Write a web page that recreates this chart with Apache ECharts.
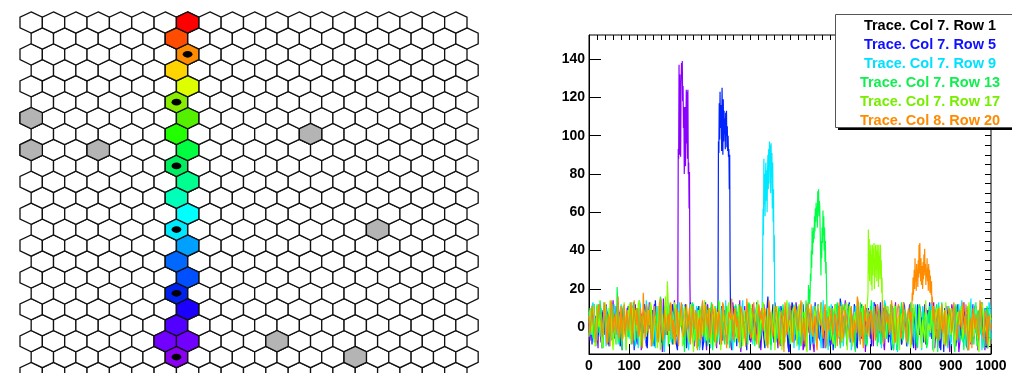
<!DOCTYPE html>
<html>
<head>
<meta charset="utf-8">
<script src="https://cdn.jsdelivr.net/npm/echarts@6/dist/echarts.min.js"></script>
<style>
  html, body { margin: 0; padding: 0; background: #fff; }
  #main { width: 1012px; height: 373px; }
</style>
</head>
<body>
<div id="main"></div>
<script>
// ---------------- detector map ----------------
const GRID_COLS = 20;   // columns 1..20
const GRID_ROWS = 23;   // rows 0..22 (row 0 at the bottom)

// hit cells along the track; hitSeq = order of arrival (1 = earliest)
const hitCols = [7, 7, 8, 7, 8, 7, 8, 7, 8, 7, 8, 7, 8, 7, 8, 7, 8, 7, 8, 7, 8, 7, 8];
const hitRows = [1, 2, 2, 3, 4, 5, 6, 7, 8, 9, 10, 11, 12, 13, 14, 15, 16, 17, 18, 19, 20, 21, 22];
const hitSeq  = [1, 2, 2, 3, 4, 5, 6, 7, 8, 9, 10, 11, 12, 13, 14, 15, 16, 17, 18, 19, 20, 21, 22];

// dead channels
const deadCols = [1, 1, 4, 13, 16, 12, 15];
const deadRows = [16, 14, 14, 15, 9, 2, 1];

// channels whose traces are shown
const traceCols = [7, 7, 7, 7, 7, 8];
const traceRows = [1, 5, 9, 13, 17, 20];
const traceNames = [
  'Trace. Col 7. Row 1',
  'Trace. Col 7. Row 5',
  'Trace. Col 7. Row 9',
  'Trace. Col 7. Row 13',
  'Trace. Col 7. Row 17',
  'Trace. Col 8. Row 20'
];

// ---------------- waveforms ----------------
// baseline samples every 5 ns: "base" at 0, 5, 10 ... and "mid" at 2.5, 7.5 ...
// (null inside the pulse window)
const sampleStep = 5;
const baseRow1 = [
  4, -6, 9, 1, -3, 12, -8, 5, 0, 7, -10, 3, 14, -4, 2, 8, -7, 6, -2, 10,
  -5, 3, 11, -9, 6, 1, -12, 8, 4, -3, 13, -6, 2, 9, -8, 5, 0, 15, -4, 7,
  -2, 10, -7, 3, null, null, null, null, null, null, null, 5, -6, 9, 1, -11, 7, 3, -4, 12,
  -8, 4, 8, -1, 6, -9, 11, 0, -5, 7, 3, -12, 9, -3, 5, 14, -6, 2, -10, 6,
  1, -4, 10, -7, 4, 8, -2, 12, -9, 3, 6, -5, 0, 9, -11, 5, 2, -3, 11, -6,
  7, 0, -8, 13, 3, -4, 6, -10, 9, 1, -2, 8, -13, 4, 10, -5, 2, 7, -7, 5,
  -1, 11, -6, 3, 8, -9, 0, 6, -3, 12, -8, 4, 1, -11, 9, 5, -4, 7, -2, 10,
  -6, 2, 13, -5, 6, -1, 9, -12, 3, 7, -3, 11, 0, -8, 5, 8, -6, 2, -10, 6,
  4, -2, 10, -7, 1, 8, -4, 12, -9, 5, 0, 7, -11, 3, 9, -5, 6, -1, 11, -7,
  2, 8, -3, 5, -13, 10, 1, -6, 7, 3, -9, 12, -2, 6, -5, 9, 0, -12, 8, 4,
  -3
];
const midRow1 = [
  -7, 10, -2, 6, -11, 3, 8, -4, 12, -9, 1, 7, -6, 11, -3, 5, -12, 9, 2, -5,
  8, -1, 13, -7, 4, 10, -3, 6, -10, 2, 9, -8, 12, -4, 3, 7, -13, 5, 11, -2,
  6, -9, 14, -5, null, null, null, null, null, null, -4, 8, -10, 3, 11, -6, 2, 9, -12, 5,
  10, -3, 7, -11, 12, 1, -7, 9, -2, 4, -9, 13, -5, 8, 0, -13, 6, 11, -4, 2,
  -8, 12, 3, -6, 9, -12, 5, 1, -3, 10, -9, 7, 13, -4, 2, -10, 8, -1, 6, -13,
  11, -5, 4, 9, -8, 2, -12, 7, 12, -3, 5, -9, 10, 0, -6, 13, -2, -11, 8, 3,
  -9, 6, 12, -4, 1, 9, -7, 14, -10, 4, 8, -2, -12, 11, 3, -6, 10, -13, 5, 0,
  9, -10, 4, 12, -3, 7, -8, 1, 11, -5, 6, -12, 13, -1, 3, -9, 10, 5, -7, 12,
  -4, 8, -12, 6, 11, -2, 4, -9, 9, 1, -6, 13, -3, 7, -11, 10, 2, -8, 5, -13,
  12, -5, 9, 1, -8, 6, 13, -3, -10, 8, 4, -6, 11, -12, 2, 7, -4, 10, -9, 3
];
const baseRow5 = [
  -3, 7, 2, -8, 11, 4, -5, 9, -1, 6, -10, 13, 0, -4, 8, 3, -7, 10, -2, 5,
  9, -6, 1, 12, -9, 4, 7, -3, 10, -11, 2, 6, -5, 14, -2, 8, -8, 3, 11, -4,
  5, -7, 9, 0, -12, 6, 3, -3, 12, -6, 1, 8, -9, 4, 10, -1, 6, -8, 13, 2,
  -4, 9, -7, 3, null, null, null, null, null, null, null, 6, -5, 11, 2, -9, 7, 0, -3, 12,
  -7, 4, 8, -2, 6, -11, 10, 1, -5, 16, -3, 5, -8, 9, 3, -6, 11, -1, 7, -10,
  2, 13, -4, 6, -9, 8, 0, -6, 10, 4, -12, 7, 1, -3, 12, -7, 5, 9, -2, 3,
  -10, 8, 2, -5, 11, 15, -8, 6, -1, 9, -4, 3, 12, -9, 5, 0, 7, -6, 10, -2,
  4, -11, 8, 1, -5, 13, -3, 6, 9, -8, 2, 10, -6, 4, -1, 7, -10, 11, 3, -4,
  6, -7, 9, 0, 12, -5, 3, -9, 8, 5, -2, 11, -6, 2, 7, -12, 4, 10, -3, 6,
  -8, 1, 9, -4, 13, -6, 5, 2, -10, 8, 0, -3, 11, -7, 4, 7, -5, 10, -11, 3,
  5
];
const midRow5 = [
  5, -9, 12, 2, -4, 8, -11, 6, 10, -1, 4, -7, 9, -3, 13, -10, 1, 7, -6, 11,
  -2, 8, -12, 5, 10, -5, 3, 12, -8, 6, -1, 9, -10, 4, 11, -4, 7, -13, 2, 9,
  -6, 12, 1, -9, 8, 4, -3, 10, -11, 6, 13, -2, 5, -8, 9, 1, -12, 11, -5, 7,
  3, -7, 10, -1, null, null, null, null, null, null, 9, -3, 6, -10, 12, 2, -6, 8, -12, 5,
  10, -4, 3, 13, -8, 7, 0, -11, 9, 4, -6, 12, -2, 6, -9, 11, 1, -5, 8, -13,
  4, 11, -7, 2, 9, -3, 12, -10, 5, 8, -1, -8, 13, 3, -5, 10, -11, 6, 1, -4,
  8, -12, 10, 4, -6, 11, -2, 7, -9, 13, 1, -4, 9, -11, 5, 12, -7, 2, -3, 8,
  -10, 6, 12, -1, 3, -8, 10, -5, 8, 1, -12, 11, 4, -3, 7, -9, 13, 0, -6, 9,
  2, -11, 7, 12, -4, 5, -8, 10, -2, 13, -6, 3, 9, -10, 6, 1, -13, 11, -5, 4,
  9, -3, -10, 12, 5, -7, 8, 0, -12, 10, 3, -5, 11, -8, 6, 13, -2, 4, -9, 7
];
const baseRow9 = [
  8, -4, 13, 0, -7, 5, 10, -2, 6, -9, 3, 11, -5, 7, 1, -8, 12, -3, 4, 9,
  -6, 2, 8, -10, 5, 14, -1, 6, -7, 10, 3, -4, 9, -11, 7, 0, 12, -5, 4, -2,
  11, -8, 3, 7, -3, 13, 1, -9, 6, 4, -6, 10, 12, -2, 8, -12, 5, 2, -4, 9,
  0, 7, -7, 11, 3, -5, 8, -1, 14, -9, 6, 2, -3, 10, -8, 4, 9, -6, 1, 12,
  -4, 7, -10, 5, 3, -2, null, null, null, null, null, null, null, 8, -5, 9, 2, -8, 11, -3,
  6, 0, -11, 8, 4, -4, 13, -7, 2, 10, -1, 5, -9, 7, 11, -5, 3, -2, 9, -12,
  4, 8, -6, 12, 1, -3, 7, -10, 6, 3, 10, -7, 2, -1, 13, -5, 8, 0, -9, 5,
  11, -4, 3, 7, -8, 9, -2, 14, -6, 4, 1, -11, 8, 5, -3, 12, -7, 2, 9, -5,
  3, 10, -9, 6, 0, -4, 11, 2, -7, 8, 5, -12, 7, -1, 13, -6, 4, 9, -3, 6,
  -10, 2, 8, -5, 12, 1, -8, 6, 3, -2, 15, -9, 5, 9, -4, 7, -12, 10, 0, 13,
  -6
];
const midRow9 = [
  -2, 11, -8, 5, 9, -5, 2, 13, -10, 7, 0, -6, 12, 3, -9, 8, -3, 10, -12, 6,
  4, -4, 9, 1, -11, 12, -7, 3, 14, -2, 7, -10, 5, 11, -6, 2, 9, -13, 6, 13,
  -5, 8, -1, 10, -9, 4, 12, -3, 6, -12, 9, 2, -7, 11, -4, 5, 13, -8, 1, 7,
  -11, 10, 4, -3, 8, -9, 12, 1, -6, 9, 3, -12, 11, -2, 6, -8, 14, 2, -5, 10,
  0, -9, 6, 12, -4, 8, null, null, null, null, null, null, null, -6, 11, 3, -10, 7, -2, 13,
  -7, 5, 10, -1, -12, 9, 3, -5, 12, 6, -9, 11, -3, 8, 1, -11, 14, 4, -6, 9,
  12, -8, 2, 7, -4, 13, -10, 5, 9, -2, -12, 6, 11, 0, -7, 10, 3, -9, 8, -4,
  6, 13, -6, 1, 9, -11, 4, 12, -3, 7, -8, 10, 2, -13, 11, 5, -5, 8, -10, 3,
  -1, 9, 12, -7, 4, -12, 10, 1, 6, -5, 13, -9, 3, 8, -2, 11, -6, 5, -11, 9,
  7, -4, 11, -8, 2, 14, -1, -10, 9, 5, -6, 12, -3, 6, 10, -12, 1, 8, -5, 11
];
const baseRow13 = [
  2, 9, -6, 4, 12, -3, 7, -11, 5, 1, 10, -5, 8, -2, 21, -8, 3, 11, -4, 6,
  0, -9, 13, 4, -6, 8, 2, -12, 9, 5, -3, 11, -7, 3, 7, -1, 14, -10, 6, 9,
  -4, 8, -9, 3, 12, -5, 6, 1, -13, 10, 4, -2, 9, -7, 5, 11, -4, 2, 8, -10,
  6, 13, -3, 4, -8, 10, 1, -5, 7, 3, -11, 9, -1, 12, -6, 5, 8, -3, 2, -9,
  11, -4, 6, 0, 9, -7, 4, 13, -10, 5, 2, -3, 10, -8, 7, 1, -5, 12, -2, 6,
  -9, 8, 3, -4, 11, -6, 4, 9, 14, null, null, null, null, null, null, null, null, null, null, 5,
  -7, 10, 2, -3, 8, -11, 6, 12, -5, 1, 9, -8, 4, 7, -2, 13, -6, 3, -10, 8,
  5, -4, 11, -1, 7, -9, 3, 10, -6, 2, 12, -3, 8, -12, 4, 6, -7, 9, 1, -5,
  13, -2, 6, -8, 10, 3, -4, 8, -11, 5, 0, 9, -6, 12, 2, -3, 7, -9, 4, 11,
  -5, 6, -13, 9, 1, -7, 10, 4, -2, 12, -8, 5, 3, -10, 9, -1, 7, -4, 11, 2,
  -6
];
const midRow13 = [
  10, -3, 6, -10, 8, 14, -6, 3, 11, -8, 5, 12, -1, -9, 7, 2, -12, 9, 4, -5,
  13, -7, 1, 10, -4, 6, -11, 9, 3, -2, 12, -9, 5, 8, -6, 16, -3, 0, 11, -10,
  7, 2, -8, 12, -5, 9, 4, -13, 10, 1, -6, 13, -2, 6, -10, 8, 3, -4, 11, -7,
  5, -12, 9, 2, 14, -5, 7, -9, 11, 0, -3, 10, -8, 4, 12, -11, 6, 1, -6, 13,
  -2, 8, -10, 5, 11, -4, 13, 2, -7, 9, -12, 6, 3, -5, 10, -9, 12, 1, -3, 7,
  9, -6, 12, -1, 5, -10, 8, 3, -8, null, null, null, null, null, null, null, null, null, null, 11,
  -4, 7, -11, 13, 2, -6, 9, 4, -9, 12, -2, 6, -13, 10, 1, -5, 11, 3, -8, 8,
  14, -3, 5, -10, 9, 0, -7, 12, 4, -4, 8, -12, 11, 2, -6, 13, -1, 7, -9, 6,
  -5, 10, 3, -11, 12, -2, 8, 1, -8, 11, 5, -4, 9, -13, 6, 13, -3, 2, -10, 10,
  4, -7, 12, 0, -5, 9, -12, 6, 11, -2, 3, -9, 13, 7, -4, 10, -11, 1, 8, -6
];
const baseRow17 = [
  -5, 8, 3, -10, 11, 0, 6, -4, 13, -8, 2, 9, -12, 5, 7, -3, 10, -6, 4, 1,
  12, -7, 5, 9, -2, 14, -9, 3, 8, -5, 1, 11, -4, 6, -11, 10, 2, -3, 16, 24,
  -8, 7, 0, 10, -5, 4, 12, -9, 6, 2, -3, 9, -13, 8, 3, -6, 11, 1, -4, 7,
  10, -2, 5, -10, 8, 13, -6, 3, 0, 9, -7, 12, 4, -3, 6, -11, 10, 2, -5, 8,
  -1, 11, -8, 5, 14, -4, 2, 7, -9, 10, 3, -6, 12, 1, -3, 8, -12, 6, 9, -2,
  4, -8, 11, 0, 7, -5, 13, 3, -10, 6, 9, -2, 5, -7, 12, 1, -4, 8, -11, 10,
  2, -6, 9, 4, -3, 11, -8, 6, 13, -1, 5, -10, 8, 0, 7, -5, 12, 2, 3, null,
  null, null, null, null, null, null, null, 4, -7, 9, 1, -4, 12, -9, 6, 3, -2, 10, -6, 8,
  -11, 5, 11, 0, -5, 9, 4, -8, 13, 2, -3, 7, -12, 10, 5, -1, 8, -7, 12, 3,
  -4, 9, -10, 6, 1, 11, -6, 4, -2, 13, -8, 7, 0, 10, -13, 5, 9, -3, 6, -9,
  4
];
const midRow17 = [
  9, -4, 12, -8, 3, 7, -11, 10, -1, 5, 14, -6, 2, -9, 11, 4, -3, 13, -12, 6,
  -2, 10, -7, 3, 12, -10, 6, 1, -5, 9, 13, -8, 4, -1, 11, -12, 7, 2, -4, 10,
  5, -6, 13, -3, 8, 0, -10, 11, 3, -8, 12, -2, 6, -11, 9, 2, -5, 14, -7, 4,
  -9, 7, 11, -1, 4, -12, 10, 6, -4, 13, -8, 3, 8, -6, 12, 0, -10, 9, 5, -3,
  12, -7, 2, 10, -11, 6, 13, -3, 4, -9, 8, 1, -12, 11, -5, 7, 3, -8, 14, -1,
  -6, 9, 4, -10, 12, 2, -3, 8, -13, 10, 5, -5, 11, -8, 3, 13, -1, 6, -11, 9,
  1, -9, 12, 4, -5, 10, -2, 7, -12, 11, 3, -7, 9, 14, -4, 6, -10, 8, 2, null,
  null, null, null, null, null, null, 5, -6, 11, -2, 8, -9, 13, 3, -12, 7, 10, -4, 1, 9,
  -8, 12, 6, -3, 10, -11, 4, 14, -6, 2, 9, -13, 7, -1, 11, 5, -9, 13, -4, 6,
  10, -2, -10, 8, 3, 12, -7, 5, -12, 9, 1, -5, 11, -8, 6, 13, -3, 0, -11, 7
];
const baseRow20 = [
  6, -4, 10, 1, -7, 12, 3, -2, 8, -9, 5, 14, -3, 7, 0, -6, 11, 2, -5, 9,
  -1, 13, -8, 4, 10, -3, 6, 18, -6, 2, 9, -10, 7, 3, -4, 12, 0, -7, 8, 5,
  -2, 11, 4, -9, 7, 1, 13, -5, 6, -1, 10, -8, 3, 9, -12, 5, 8, -3, 12, 0,
  -6, 7, 3, 10, -4, 5, -9, 11, 2, -2, 8, 15, -7, 4, 6, -5, 12, 1, -10, 9,
  3, -4, 13, 0, -8, 7, 10, -2, 5, -11, 8, 2, -5, 11, 4, -3, 9, -13, 6, 1,
  12, -6, 3, 8, -2, 10, -9, 5, 0, 13, -4, 7, 2, -7, 10, 4, -1, 9, -10, 6,
  1, 11, -5, 3, 8, -8, 12, -2, 6, 0, -6, 10, 4, -3, 13, -9, 7, 2, -4, 9,
  5, -7, 11, 0, 8, -3, 14, -10, 4, 7, -1, 9, -6, 3, 12, -4, 6, 1, -8, 10,
  8, null, null, null, null, null, null, null, null, null, null, null, 5, -6, 10, 2, -3, 9, -11, 7,
  4, -2, 12, -7, 6, 1, 13, -4, 8, -12, 5, 10, -1, 3, -6, 11, 0, 7, -9, 6,
  2
];
const midRow20 = [
  -3, 11, 2, -8, 9, 5, -5, 13, -1, 7, -10, 10, 3, -4, 16, 0, -7, 12, 4, -2,
  8, -9, 14, 1, -5, 10, -11, 6, 12, -3, 5, -6, 11, 2, -8, 15, -1, 9, -4, 7,
  13, -6, 3, 10, -10, 8, 0, -3, 12, 5, -9, 11, -1, 7, 3, -7, 14, -4, 6, 10,
  -2, 12, -8, 5, 9, -5, 13, 2, -11, 8, 4, -3, 10, 0, -8, 11, 6, -5, 15, 2,
  -6, 9, 1, -9, 12, 4, -2, 10, -7, 14, 3, -5, 8, 11, -10, 6, 0, 13, -4, 7,
  3, -8, 11, 5, -3, 14, -1, -9, 9, 2, 12, -5, 6, -12, 10, 1, -6, 12, 4, -2,
  10, -4, 7, -10, 13, 2, -6, 9, 5, -2, 11, -8, 3, 16, -3, 8, -11, 12, 1, -5,
  9, 3, -7, 12, -1, 6, -9, 11, 2, -4, 14, 0, -8, 10, 5, -6, 13, -2, 7, 4,
  -9, null, null, null, null, null, null, null, null, null, null, 11, -4, 8, -7, 12, 1, -10, 6, 10,
  -3, 13, 2, -8, 9, -1, 5, 12, -6, 3, -11, 10, 7, -4, 14, 0, -7, 9, 4, -2
];

// pulses: one sample every 1 ns, starting at pulseStart
const pulseStart = [220, 320, 430, 545, 693, 803];
const pulseRow1 = [
  3, 12, 93, 88, 137, 90, 132, 110, 89, 126, 138, 131, 139, 118, 126, 104, 115,
  80, 98, 115, 84, 102, 124, 96, 123, 88, 124, 80, 86, 62, 81, 24, 6
];
const pulseRow5 = [
  4, 14, 97, 91, 117, 98, 123, 104, 116, 110, 92, 125, 108, 90, 119, 97, 113,
  101, 109, 93, 112, 100, 113, 94, 105, 92, 100, 89, 93, 72, 90, 30, 8
];
const pulseRow9 = [
  5, 14, 38, 62, 48, 88, 64, 80, 58, 77, 86, 66, 82, 60, 79, 90, 72,
  93, 75, 97, 84, 95, 70, 96, 78, 91, 62, 86, 55, 72, 34, 48, 12, 4
];
const pulseRow13 = [
  6, 22, 15, 20, 12, 18, 28, 24, 40, 31, 52, 38, 50, 44, 52, 46, 58, 50, 62, 55,
  65, 58, 63, 52, 71, 60, 72, 58, 66, 63, 50, 41, 27, 45, 36, 52, 44, 61, 48, 58,
  40, 52, 34, 45, 28, 34, 18, 10, 3
];
const pulseRow17 = [
  4, 18, 51, 28, 46, 24, 40, 30, 43, 22, 38, 19, 43, 27, 41, 33, 44, 20, 36, 26,
  43, 30, 40, 24, 43, 33, 39, 21, 43, 30, 37, 25, 43, 28, 35, 18, 26, 10, 4
];
const pulseRow20 = [
  9, 18, 14, 26, 17, 23, 30, 20, 36, 24, 29, 19, 33, 25, 30, 21, 35, 26, 43, 28,
  44, 30, 24, 36, 22, 32, 27, 20, 34, 25, 38, 27, 41, 29, 33, 22, 30, 26, 36, 24,
  31, 19, 33, 25, 30, 18, 27, 22, 17, 24, 12, 16, 8, 3
];
const baselines = [baseRow1, baseRow5, baseRow9, baseRow13, baseRow17, baseRow20];
const midlines = [midRow1, midRow5, midRow9, midRow13, midRow17, midRow20];
const pulses = [pulseRow1, pulseRow5, pulseRow9, pulseRow13, pulseRow17, pulseRow20];

// axis ticks of the waveform panel
const xMajorTicks = [0, 100, 200, 300, 400, 500, 600, 700, 800, 900, 1000];
const xMinorTicks = [];
for (let v = 0; v <= 1000; v += 20) xMinorTicks.push(v);
const yMajorTicks = [0, 20, 40, 60, 80, 100, 120, 140];
const yMinorTicks = [];
for (let v = -10; v <= 150; v += 5) yMinorTicks.push(v);

// ---------------- styling ----------------
const hitPalette = [
  '#8a00f0', '#7200ff', '#5200ff', '#1c00ff', '#0022ee', '#0050ff', '#0068ff', '#00a0ff',
  '#00eaff', '#00ffff', '#00ffb8', '#00ff90', '#00ee60', '#00ff40', '#22ff00', '#55f000',
  '#88ee00', '#ddff00', '#ffd400', '#ff8c00', '#ff4c00', '#ff0000'
];
const traceColors = ['#8a00ff', '#0022ff', '#00e8ff', '#00ff44', '#88ff00', '#ff8c00'];
const legendTextColors = ['#000000', '#1010ff', '#00e0ff', '#10ee50', '#77ee00', '#ff8a00'];
const FONT = '"Liberation Sans", Arial, Helvetica, sans-serif';

// pointy-top hexagon around a cell centre (x in column units, y in row units)
const HEX_OFFSETS = [[0, 2 / 3], [0.5, 1 / 3], [0.5, -1 / 3], [0, -2 / 3], [-0.5, -1 / 3], [-0.5, 1 / 3]];
function cellCenter(col, row) {
  return [col - 0.5 + (row % 2 === 1 ? 0.5 : 0), row];
}
function hexPoints(api, col, row) {
  const c = cellCenter(col, row);
  return HEX_OFFSETS.map(d => api.coord([c[0] + d[0], c[1] + d[1]]));
}
function hexRenderer(fillFn) {
  return function (params, api) {
    return {
      type: 'polygon',
      shape: { points: hexPoints(api, api.value(0), api.value(1)) },
      style: { fill: fillFn(api), stroke: '#111', lineWidth: 1.3 }
    };
  };
}

// baseline samples outside the pulse window plus the 1 ns pulse samples
function buildTrace(base, mid, start, pulse) {
  const end = start + pulse.length - 1;
  const pts = [];
  const addBaseline = (arr, offset) => arr.forEach((v, k) => {
    const x = offset + k * sampleStep;
    if (v !== null && (x < start || x > end)) pts.push([x, v]);
  });
  addBaseline(base, 0);
  addBaseline(mid, sampleStep / 2);
  pulse.forEach((v, k) => pts.push([start + k, v]));
  pts.sort((a, b) => a[0] - b[0]);
  return pts;
}

const allCells = [];
for (let r = 0; r < GRID_ROWS; r++) {
  for (let c = 1; c <= GRID_COLS; c++) allCells.push([c, r]);
}
const deadCells = deadCols.map((c, i) => [c, deadRows[i]]);
const hitCells = hitCols.map((c, i) => [c, hitRows[i], hitSeq[i]]);
const maxSeq = Math.max(...hitSeq);
const markedCells = traceCols.map((c, i) => [c, traceRows[i]]);

const series = [
  {
    type: 'custom', xAxisIndex: 0, yAxisIndex: 0, clip: false, silent: true,
    data: allCells, renderItem: hexRenderer(() => '#ffffff')
  },
  {
    type: 'custom', xAxisIndex: 0, yAxisIndex: 0, clip: false, silent: true,
    data: deadCells, renderItem: hexRenderer(() => '#b4b4b4')
  },
  {
    type: 'custom', xAxisIndex: 0, yAxisIndex: 0, clip: false, silent: true,
    data: hitCells,
    renderItem: hexRenderer(api => echarts.color.lerp((api.value(2) - 1) / (maxSeq - 1), hitPalette))
  },
  {
    type: 'custom', xAxisIndex: 0, yAxisIndex: 0, clip: false, silent: true,
    data: markedCells,
    renderItem: function (params, api) {
      const c = cellCenter(api.value(0), api.value(1));
      const p = api.coord(c);
      const s = api.size([0.44, 0.42]);
      return {
        type: 'ellipse',
        shape: { cx: p[0], cy: p[1], rx: s[0] / 2, ry: s[1] / 2 },
        style: { fill: '#000' }
      };
    }
  }
];

baselines.forEach((base, i) => {
  series.push({
    name: traceNames[i],
    type: 'line',
    xAxisIndex: 1,
    yAxisIndex: 1,
    data: buildTrace(base, midlines[i], pulseStart[i], pulses[i]),
    showSymbol: false,
    symbol: 'none',
    silent: true,
    clip: true,
    lineStyle: { width: 1.2, color: traceColors[i] },
    itemStyle: { color: traceColors[i] }
  });
});

const hiddenAxis = {
  show: false, axisLine: { show: false }, axisTick: { show: false },
  axisLabel: { show: false }, splitLine: { show: false }
};
const labelStyle = { color: '#000', fontFamily: FONT, fontWeight: 'bold', fontSize: 14, formatter: v => String(v) };

// legend box
const legendX = 835, legendY = 14, legendW = 200, legendH = 113;
const graphic = [
  { type: 'rect', silent: true, z: 10, shape: { x: legendX + 3, y: legendY + 3, width: legendW, height: legendH }, style: { fill: '#000' } },
  { type: 'rect', silent: true, z: 11, shape: { x: legendX + 0.5, y: legendY + 0.5, width: legendW, height: legendH }, style: { fill: '#fff', stroke: '#555', lineWidth: 1 } }
];
traceNames.forEach((name, i) => {
  graphic.push({
    type: 'text', silent: true, z: 12,
    x: 930, y: 26 + i * 19,
    style: {
      text: name, fill: legendTextColors[i],
      font: 'bold 14.5px ' + FONT, align: 'center', verticalAlign: 'middle'
    }
  });
});

const option = {
  animation: false,
  backgroundColor: '#fff',
  grid: [
    { left: 20, top: 22.5, width: 20.5 * 22.35, height: 22 * 16.4, show: false },
    { left: 589, right: 21, top: 35, bottom: 19, show: true, borderColor: '#000', borderWidth: 1, backgroundColor: 'transparent' }
  ],
  xAxis: [
    Object.assign({ type: 'value', gridIndex: 0, min: 0, max: 20.5 }, hiddenAxis),
    {
      type: 'value', gridIndex: 1, min: 0, max: 1000,
      axisLine: { show: true, onZero: false, lineStyle: { color: '#000', width: 1 } },
      axisTick: { show: true, inside: true, length: 10, customValues: xMajorTicks, lineStyle: { color: '#000' } },
      axisLabel: Object.assign({ show: true, margin: 5, customValues: xMajorTicks }, labelStyle),
      splitLine: { show: false }
    },
    {
      type: 'value', gridIndex: 1, min: 0, max: 1000,
      axisLine: { show: false, onZero: false },
      axisTick: { show: true, inside: true, length: 5, customValues: xMinorTicks, lineStyle: { color: '#000' } },
      axisLabel: { show: false },
      splitLine: { show: false }
    }
  ],
  yAxis: [
    Object.assign({ type: 'value', gridIndex: 0, min: 0, max: 22 }, hiddenAxis),
    {
      type: 'value', gridIndex: 1, min: -14, max: 152.6,
      axisLine: { show: true, onZero: false, lineStyle: { color: '#000', width: 1 } },
      axisTick: { show: true, inside: true, length: 12, customValues: yMajorTicks, lineStyle: { color: '#000' } },
      axisLabel: Object.assign({ show: true, margin: 4, customValues: yMajorTicks }, labelStyle),
      splitLine: { show: false }
    },
    {
      type: 'value', gridIndex: 1, min: -14, max: 152.6,
      axisLine: { show: false, onZero: false },
      axisTick: { show: true, inside: true, length: 6, customValues: yMinorTicks, lineStyle: { color: '#000' } },
      axisLabel: { show: false },
      splitLine: { show: false }
    }
  ],
  graphic: graphic,
  series: series
};

const chart = echarts.init(document.getElementById('main'), null, { renderer: 'canvas' });
chart.setOption(option);
</script>
</body>
</html>
